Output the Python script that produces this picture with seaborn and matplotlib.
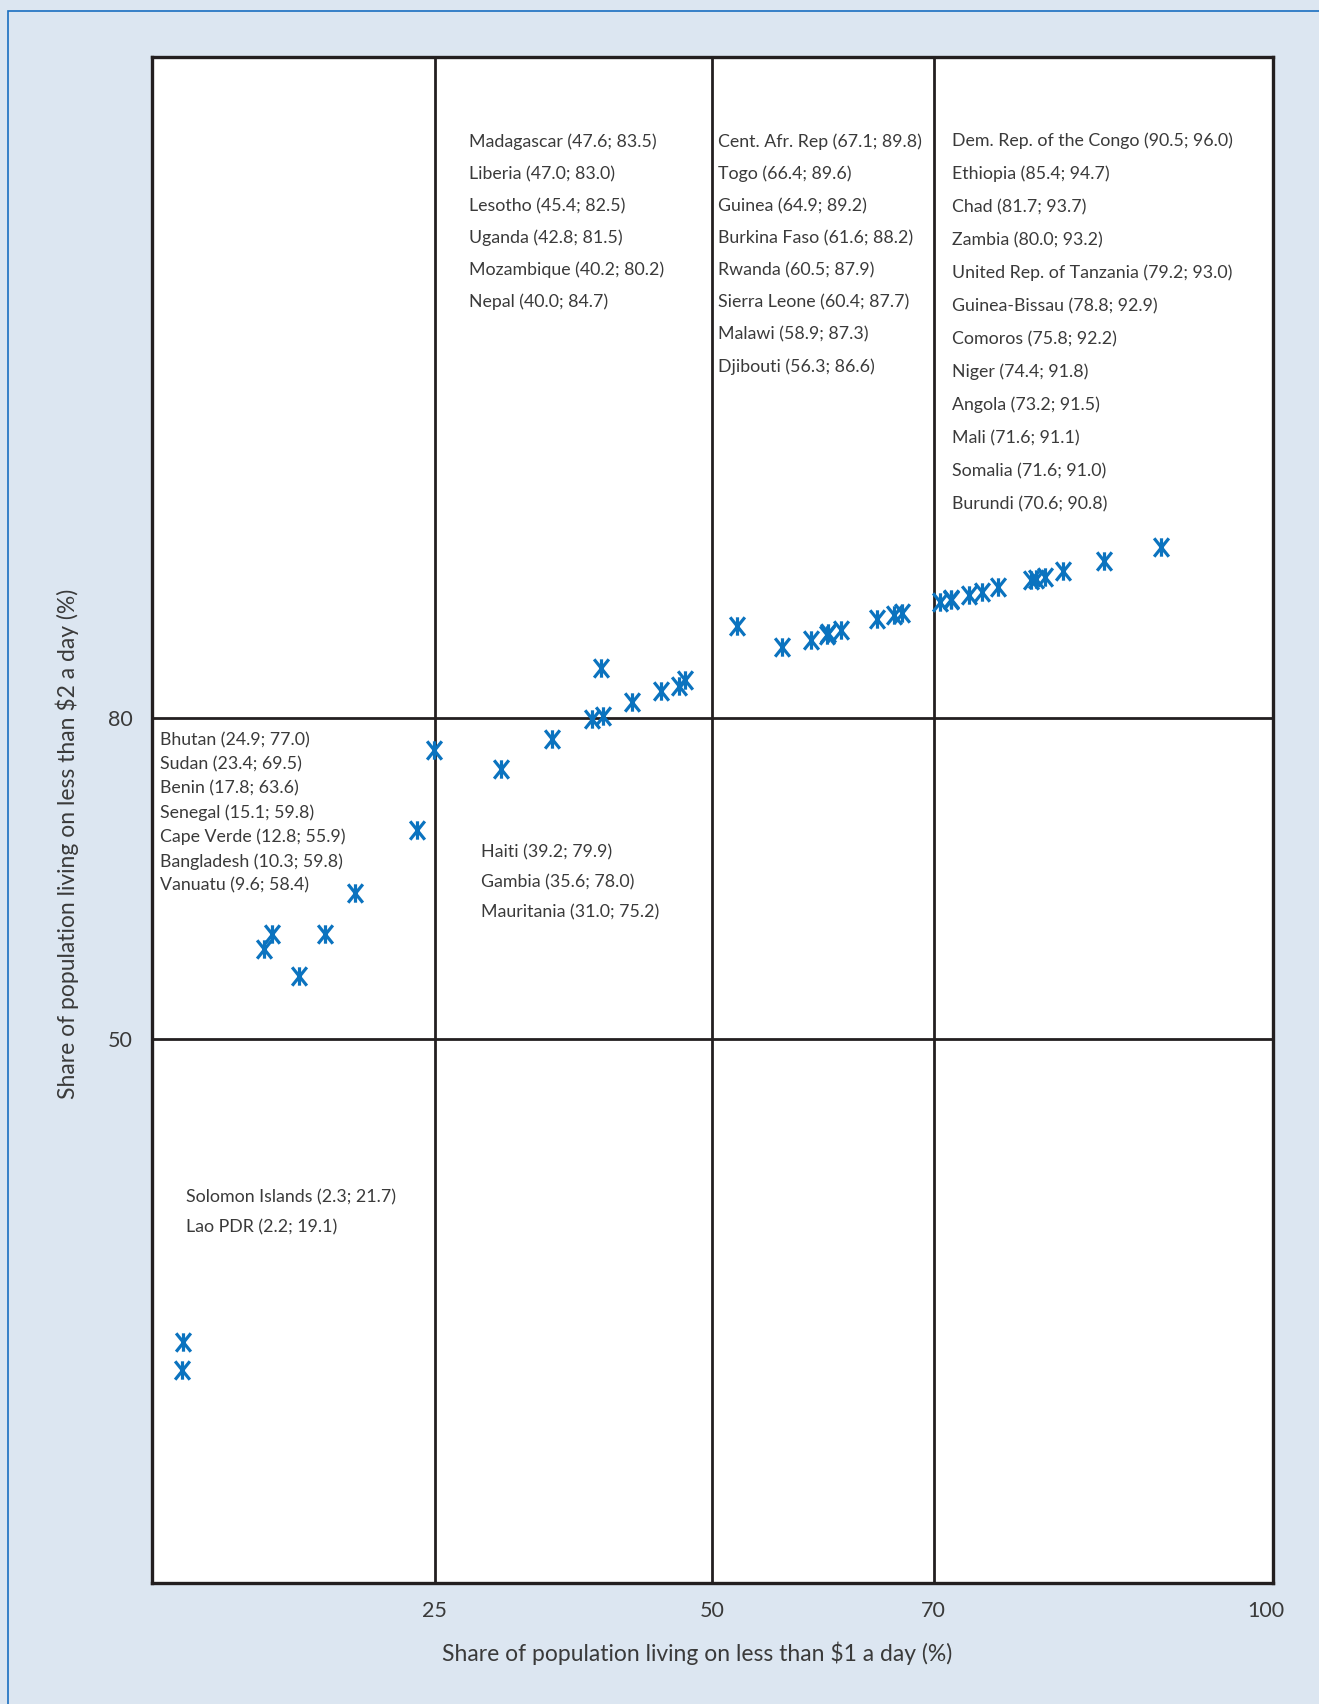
"""Scatter of $1-a-day vs $2-a-day poverty shares, with country lists per quadrant."""
import matplotlib
matplotlib.use('Agg')
import matplotlib.pyplot as plt
from matplotlib.path import Path
from matplotlib.patches import Rectangle
import seaborn as sns

W, H = 1319, 1704

# country, share < $1/day, share < $2/day, text block
countries = [
    'Madagascar', 'Liberia', 'Lesotho', 'Uganda', 'Mozambique', 'Nepal',
    'Cent. Afr. Rep', 'Togo', 'Guinea', 'Burkina Faso', 'Rwanda', 'Sierra Leone', 'Malawi', 'Djibouti',
    'Dem. Rep. of the Congo', 'Ethiopia', 'Chad', 'Zambia', 'United Rep. of Tanzania', 'Guinea-Bissau',
    'Comoros', 'Niger', 'Angola', 'Mali', 'Somalia', 'Burundi',
    'Bhutan', 'Sudan', 'Benin', 'Senegal', 'Cape Verde', 'Bangladesh', 'Vanuatu',
    'Haiti', 'Gambia', 'Mauritania',
    'Solomon Islands', 'Lao PDR',
]
below_1 = [
    47.6, 47.0, 45.4, 42.8, 40.2, 40.0,
    67.1, 66.4, 64.9, 61.6, 60.5, 60.4, 58.9, 56.3,
    90.5, 85.4, 81.7, 80.0, 79.2, 78.8, 75.8, 74.4, 73.2, 71.6, 71.6, 70.6,
    24.9, 23.4, 17.8, 15.1, 12.8, 10.3, 9.6,
    39.2, 35.6, 31.0,
    2.3, 2.2,
]
below_2 = [
    83.5, 83.0, 82.5, 81.5, 80.2, 84.7,
    89.8, 89.6, 89.2, 88.2, 87.9, 87.7, 87.3, 86.6,
    96.0, 94.7, 93.7, 93.2, 93.0, 92.9, 92.2, 91.8, 91.5, 91.1, 91.0, 90.8,
    77.0, 69.5, 63.6, 59.8, 55.9, 59.8, 58.4,
    79.9, 78.0, 75.2,
    21.7, 19.1,
]
block = [0] * 6 + [1] * 8 + [2] * 12 + [3] * 7 + [4] * 3 + [5] * 2

# one plotted point that has no label in the original
extra_x = [52.3]
extra_y = [88.6]

x_ticks = [25, 50, 70, 100]
y_ticks = [50, 80]

# text blocks: left edge px, first line centre px, line step px
block_pos = [(469, 142, 32.0), (718, 142, 32.1), (952, 141, 33.0),
             (160, 740, 24.3), (481, 852, 30.4), (186, 1197, 30.4)]

BG = '#dce6f1'
INK = '#231f20'
TXT = '#3a3a3a'
BLUE = '#0b73bf'

sns.set_style('white')
plt.rcParams['font.family'] = ['Lato', 'DejaVu Sans']

fig = plt.figure(figsize=(W / 100, H / 100), dpi=100, facecolor=BG)
fig.patches.append(Rectangle((8 / W, -0.1), 1.2, 1 - 11 / H + 0.1, transform=fig.transFigure,
                             facecolor='none', edgecolor='#1a6fc0', linewidth=1.2))

ax = fig.add_axes([152 / W, 1 - 1583 / H, (1273 - 152) / W, (1583 - 56.5) / H])
ax.set_facecolor('white')

# six-armed cross marker like the original
star = Path([(0, -1), (0, 1), (-0.8, -1), (0.8, 1), (-0.8, 1), (0.8, -1)],
            [Path.MOVETO, Path.LINETO, Path.MOVETO, Path.LINETO, Path.MOVETO, Path.LINETO])

sns.scatterplot(x=below_1 + extra_x, y=below_2 + extra_y, ax=ax, marker=star, s=175,
                color=BLUE, edgecolor=BLUE, linewidth=2.3, zorder=3)

for v in [25, 50, 70]:
    ax.axvline(v, color=INK, lw=2.0, zorder=2)
for v in y_ticks:
    ax.axhline(v, color=INK, lw=2.0, zorder=2)

ax.set_xlim(-0.5, 100.6)
ax.set_ylim(-0.84, 141.8)
ax.set_xticks(x_ticks)
ax.set_yticks(y_ticks)
ax.tick_params(length=0, labelsize=15.5, labelcolor=TXT)
ax.tick_params(axis='x', pad=13)
ax.tick_params(axis='y', pad=14)
for s in ax.spines.values():
    s.set_visible(True)
    s.set_color(INK)
    s.set_linewidth(2.4)
ax.set_xlabel('')
ax.set_ylabel('')

fig.text(697 / W, 1 - 1653 / H, 'Share of population living on less than $1 a day (%)',
         ha='center', va='center', fontsize=16.5, color=TXT)
fig.text(67 / W, 1 - 844 / H, 'Share of population living on less than $2 a day (%)',
         ha='center', va='center', rotation=90, fontsize=16.5, color=TXT)

# country lists
counts = [0] * len(block_pos)
for name, a, b, g in zip(countries, below_1, below_2, block):
    px, py, step = block_pos[g]
    y = py + counts[g] * step
    fig.text(px / W, 1 - y / H, f'{name} ({a:.1f}; {b:.1f})',
             ha='left', va='center', fontsize=12.8, color=TXT)
    counts[g] += 1

fig.savefig('out.png', dpi=100, facecolor=BG)
